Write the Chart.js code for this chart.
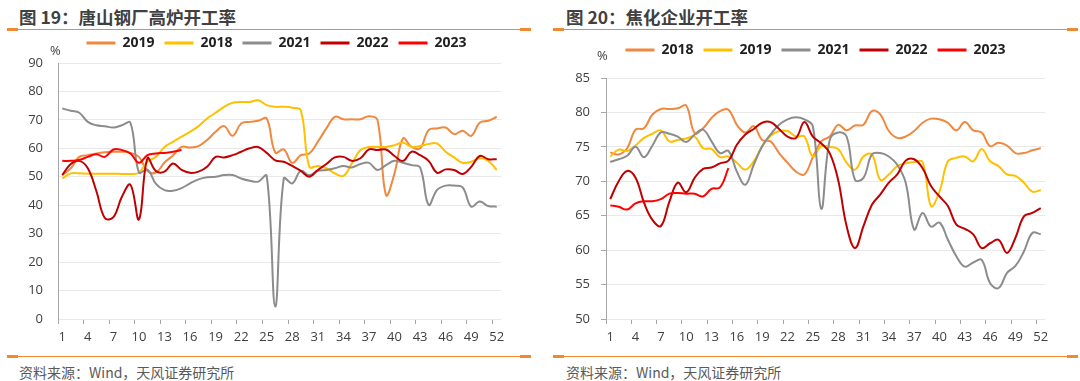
<!DOCTYPE html>
<html lang="zh-CN">
<head>
<meta charset="utf-8">
<title>唐山钢厂高炉开工率 / 焦化企业开工率</title>
<script src="https://cdn.jsdelivr.net/npm/chart.js@4.4.1/dist/chart.umd.min.js"></script>
<style>
  html, body { margin: 0; padding: 0; background: #fff; }
  body { width: 1080px; height: 381px; position: relative; overflow: hidden;
         font-family: 'Noto Sans CJK SC', 'Open Sans', sans-serif; }
  .panel { position: absolute; top: 0; width: 540px; height: 381px; }
  .title { position: absolute; top: 5px; font-size: 17.5px; font-weight: bold; color: #404040;
           line-height: 24px; white-space: nowrap; }
  .rule { position: absolute; height: 1.5px; background: #F0892F; }
  .rule::before, .rule::after { content: ''; position: absolute; top: -1px; width: 11px; height: 3.5px; background: #F0892F; }
  .rule::before { left: 0; }
  .rule::after { right: 0; }
  .src { position: absolute; top: 361px; font-size: 14px; color: #595959; line-height: 22px; white-space: nowrap; }
  .unit { position: absolute; font-family: 'Open Sans', sans-serif; font-size: 13px; color: #404040; line-height: 18px; }
  canvas { position: absolute; top: 20px; left: 0; }
</style>
</head>
<body>

<div class="panel" style="left:0">
  <div class="title" style="left:19px">图 19：唐山钢厂高炉开工率</div>
  <div class="rule" style="left:7px; width:524px; top:28.5px"></div>
  <canvas id="cBF" width="540" height="330"></canvas>
  <div class="unit" style="left:50px; top:41px">%</div>
  <div class="rule" style="left:7px; width:524px; top:355.5px"></div>
  <div class="src" style="left:19px">资料来源：Wind，天风证券研究所</div>
</div>

<div class="panel" style="left:540px">
  <div class="title" style="left:26px">图 20：焦化企业开工率</div>
  <div class="rule" style="left:13px; width:525px; top:28.5px"></div>
  <canvas id="cCK" width="540" height="330"></canvas>
  <div class="unit" style="left:57px; top:46px">%</div>
  <div class="rule" style="left:13px; width:525px; top:355.5px"></div>
  <div class="src" style="left:26px">资料来源：Wind，天风证券研究所</div>
</div>

<script>
    // ── 数据：按周（1–52） ─────────────────────────────────────────
    const weeks = ['1', '2', '3', '4', '5', '6', '7', '8', '9', '10', '11', '12', '13',
                   '14', '15', '16', '17', '18', '19', '20', '21', '22', '23', '24', '25', '26',
                   '27', '28', '29', '30', '31', '32', '33', '34', '35', '36', '37', '38', '39',
                   '40', '41', '42', '43', '44', '45', '46', '47', '48', '49', '50', '51', '52'];

    // 图19 唐山钢厂高炉开工率（%）
    const bfYears = ['2019', '2018', '2021', '2022', '2023'];
    const bf2019 = [50.6, 53, 57, 57.6, 58.2, 58.6, 58.8, 58.8, 58.4, 57, 52, 51.5, 55,
                    57.5, 60.5, 60.3, 60.8, 62.9, 65.8, 67.8, 64.4, 68.7, 69.3, 69.7, 70.5, 58.5,
                    59.6, 54.9, 57.6, 58.2, 62.3, 67, 71.1, 70.2, 70.2, 70.2, 71.3, 70, 43.6,
                    51.2, 63.5, 60.5, 60, 66.4, 67, 67.3, 65, 66.2, 64.4, 69, 69.7, 71.1];
    const bf2018 = [49.4, 51.2, 51.2, 51.1, 51.1, 51.1, 51.1, 51, 51, 51.4, 55.3, 57, 60.5,
                    62.3, 64.1, 65.8, 67.8, 70.5, 72.5, 74.6, 76, 76.3, 76.3, 76.9, 75.2, 74.6,
                    74.6, 74.3, 73.4, 53.5, 53.8, 53, 51.2, 50.3, 54.7, 59.4, 60.5, 60.5, 60.5,
                    61.1, 62, 60.5, 60.8, 61.5, 61.7, 58.8, 56.8, 54.9, 55.3, 56.5, 55.6, 52.4];
    const bf2021 = [74, 73.2, 72.5, 69.3, 68.1, 67.8, 67.3, 68.1, 69, 51.5, 52.5, 47.5, 45.3,
                    45.1, 46, 47.7, 49.1, 49.8, 50, 50.6, 50.6, 49.4, 48.6, 48.3, 50.3, 4.4,
                    49.4, 47.7, 52.1, 50.6, 52.1, 52.4, 53, 53.8, 53.3, 54.5, 54.9, 52.4, 54.1,
                    55.6, 54.9, 54.1, 53.3, 40.1, 45.4, 46.9, 46.9, 46.3, 39.5, 41.3, 39.7, 39.5];
    const bf2022 = [50.6, 54.5, 55.6, 53, 45, 35.5, 35.8, 43, 47.2, 35, 56.5, 52, 51.8,
                    54.7, 52.4, 51.4, 51.8, 53.5, 57, 56.8, 57.6, 58.8, 60, 60.5, 58.4, 55.8,
                    55.3, 53.8, 52.1, 50, 52.4, 54.5, 56.8, 57, 55.6, 56.5, 59.6, 59.4, 59.6,
                    57.3, 55.6, 58.8, 57.6, 55.6, 51.4, 52.6, 52.4, 51, 53.5, 57.3, 56.2, 56.2];
    const bf2023 = [55.6, 55.6, 55.9, 57, 57.9, 57, 59.6, 59.4, 58.2, 54.9, 57.6, 58.2, 58.4,
                    58.8, 59.4];

    // 图20 焦化企业开工率（%）
    const ckYears = ['2018', '2019', '2021', '2022', '2023'];
    const ck2018 = [74.2, 73.9, 74.8, 77.5, 77.7, 79.7, 80.5, 80.5, 80.6, 81, 77, 77.7, 79.2,
                    80.2, 80.4, 78.2, 77.1, 78, 76, 75.8, 74.1, 72.7, 71.4, 71, 73.5, 75.8,
                    76.5, 78.2, 77.4, 78.1, 78.2, 80.2, 79.7, 77.3, 76.3, 76.5, 77.3, 78.5, 79.1,
                    79, 78.5, 77.4, 78.6, 77.4, 77.1, 75.1, 75.6, 75.2, 74.1, 74.1, 74.5, 74.8];
    const ck2019 = [73.6, 74.6, 74.4, 75.2, 76.3, 76.9, 77.4, 75.8, 76, 76.2, 76.5, 74.8, 74.7,
                    73.5, 73.6, 72.7, 71.7, 72.9, 75.1, 76.6, 77.3, 77.3, 76.5, 76.5, 73.6, 75.1,
                    75, 74.7, 72.7, 71.7, 73.6, 73.9, 70.2, 71, 72.2, 72.6, 72.8, 72.8, 66.4,
                    68.5, 72.9, 73.4, 73.6, 72.9, 74.7, 72.9, 72.2, 71, 70.8, 69.8, 68.5, 68.7];
    const ck2021 = [72.8, 73.2, 73.7, 75, 73.5, 75.2, 77.1, 76.9, 76.5, 75.7, 76.8, 77.5, 75.8,
                    74.1, 74.4, 71.4, 69.5, 72.4, 75.1, 76.8, 78.2, 79, 79.3, 79, 78, 66,
                    76, 77.1, 76.5, 70.2, 70.5, 73.9, 74.1, 73.6, 72.4, 69.8, 63, 65.4, 63.4,
                    64, 61.5, 59.1, 57.6, 58.2, 58.6, 55.2, 54.5, 56.7, 57.7, 59.8, 62.5, 62.3];
    const ck2022 = [67.4, 70, 71.5, 70.5, 66.9, 64.4, 63.5, 67, 69.8, 68.4, 70.5, 71.8, 72,
                    72.6, 73, 75.3, 76.8, 77.6, 78.5, 78.6, 77.6, 76.5, 76.3, 78.6, 76.5, 75.5,
                    74.1, 70.2, 63.5, 60.3, 63.5, 66.6, 68.1, 69.8, 71, 73, 73.2, 71.9, 69.3,
                    67.8, 66.4, 63.7, 63.1, 62.3, 60.3, 61, 61.5, 59.6, 61.8, 64.9, 65.4, 66.1];
    const ck2023 = [66.5, 66.3, 65.9, 66.8, 67.1, 67.1, 67.4, 68.2, 68.3, 68.2, 68.2, 67.8, 68.9,
                    69.1, 71.9];

    // 图例顺序的颜色：橙、黄、灰、深红、红
    const lineColors = ['#F0883F', '#FFC000', '#8C8C8C', '#C00000', '#FF0000'];

    const TXT  = '#404040';
    const AXIS = '#A6A6A6';
    const GRID = '#E9E9E9';

    // ── 图例：下方留空 + 水平微调（Chart.js 图例没有这两个选项） ─────
    const legendTweak = {
        id: 'legendTweak',
        beforeLayout: function (chart, args, opts) {
            var lg = chart.legend;
            if (!lg || lg._gapPatched) return;
            var fit = lg.fit;
            lg.fit = function () { fit.call(this); this.height += opts.extra || 0; };
            lg._gapPatched = true;
        },
        afterLayout: function (chart, args, opts) {
            var lg = chart.legend;
            if (!lg || !opts.shift) return;
            lg.left  += opts.shift;
            lg.right += opts.shift;
        }
    };

    function makeChart(id, years, series, cfg) {
        var datasets = years.map(function (y, i) {
            return {
                label          : y,
                data           : series[i],
                borderColor    : lineColors[i],
                backgroundColor: lineColors[i],
                borderWidth    : 2,
                pointRadius    : 0,
                pointHoverRadius: 0,
                tension        : 0.4,
                fill           : false,
                order          : years.length - i   // 后面的年份画在上层
            };
        });

        return new Chart(document.getElementById(id), {
            type: 'line',
            data: { labels: weeks, datasets: datasets },
            options: {
                responsive: false,
                animation : false,
                layout: { padding: { top: cfg.padTop, right: cfg.padRight, left: 0, bottom: 0 } },
                plugins: {
                    legendTweak: { extra: cfg.legendGap, shift: cfg.legendShift },
                    tooltip    : { enabled: false },
                    legend     : {
                        position: 'top',
                        fullSize: false,
                        labels  : {
                            usePointStyle  : true,
                            pointStyle     : 'line',
                            pointStyleWidth: 29,
                            padding        : 10,
                            color          : '#1F1F1F',
                            font           : { family: 'Open Sans', size: 14, weight: 'bold' },
                            sort           : function (a, b) { return a.datasetIndex - b.datasetIndex; },
                            generateLabels : function (chart) {
                                return Chart.defaults.plugins.legend.labels.generateLabels(chart)
                                    .map(function (l) { l.lineWidth = 3; return l; });
                            }
                        }
                    }
                },
                scales: {
                    x: {
                        type  : 'category',
                        offset: true,
                        border: { display: false },
                        grid  : {
                            offset         : true,
                            drawOnChartArea: false,
                            drawTicks      : true,
                            tickLength     : 5,
                            color          : 'rgba(0,0,0,0)',
                            tickColor      : function (c) { return c.index % 3 === 0 ? AXIS : 'rgba(0,0,0,0)'; }
                        },
                        ticks : {
                            autoSkip   : false,
                            maxRotation: 0,
                            padding    : 5,
                            color      : TXT,
                            font       : { family: 'Open Sans', size: 13 },
                            callback   : function (v, i) { return i % 3 === 0 ? this.getLabelForValue(v) : ''; }
                        },
                        afterFit: function (s) { s.height = 31; }
                    },
                    y: {
                        min   : cfg.yMin,
                        max   : cfg.yMax,
                        border: { display: true, color: AXIS, width: 1 },
                        grid  : { color: GRID, drawTicks: cfg.yTicks, tickLength: 5, tickColor: AXIS },
                        ticks : {
                            stepSize: cfg.yStep,
                            padding : cfg.yPad,
                            color   : TXT,
                            font    : { family: 'Open Sans', size: 13 }
                        },
                        afterFit: function (s) { s.width = cfg.yWidth; }
                    }
                }
            },
            plugins: [legendTweak]
        });
    }

    makeChart('cBF', bfYears, [bf2019, bf2018, bf2021, bf2022, bf2023], {
        padTop: 6, legendGap: 3, legendShift: -3, padRight: 39,
        yMin: 0, yMax: 90, yStep: 10, yTicks: false, yPad: 15, yWidth: 58
    });

    makeChart('cCK', ckYears, [ck2018, ck2019, ck2021, ck2022, ck2023], {
        padTop: 13, legendGap: 11, legendShift: -10, padRight: 35,
        yMin: 50, yMax: 85, yStep: 5, yTicks: true, yPad: 11, yWidth: 66
    });
</script>
</body>
</html>
